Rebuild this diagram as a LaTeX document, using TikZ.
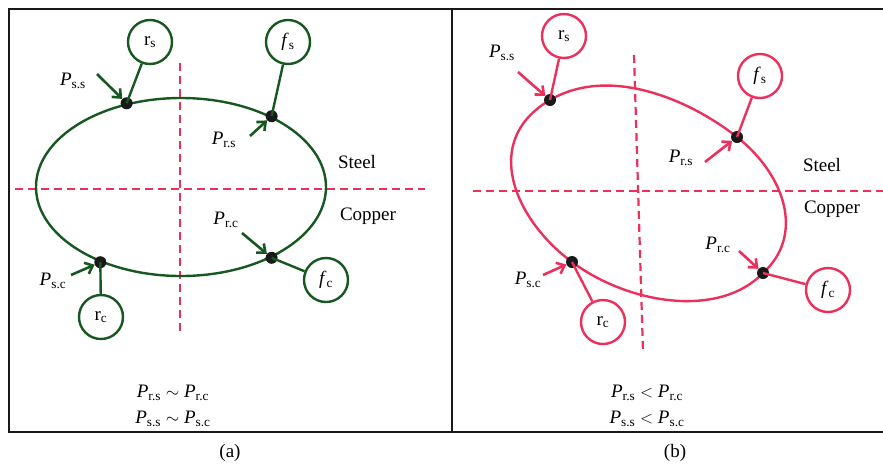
\documentclass[tikz,border=0pt]{standalone}
\usepackage{fontspec}
\setmainfont{Liberation Serif}
\usepackage{xcolor}
\usetikzlibrary{calc, shapes.geometric, positioning, arrows.meta}

\definecolor{darkgreen}{RGB}{22,88,32}
\definecolor{rosered}{RGB}{236,48,92}

\newcommand{\pw}[1]{\textit{P}\textsubscript{#1}}

\begin{document}
\begin{tikzpicture}[x=1pt, y=-1pt,
    frame/.style={line width=2.6pt, black!90},
    axis/.style={rosered, line width=2.2pt, dash pattern=on 8pt off 5pt},
    ring/.style={circle, draw=#1, line width=2.4pt, minimum size=44pt, inner sep=0pt},
    dot/.style={circle, fill=black!90, minimum size=12pt, inner sep=0pt},
    push/.style={-{Straight Barb[length=7pt, width=12pt]}, line width=2.6pt, #1},
    lbl/.style={font=\fontsize{19}{26}\selectfont, inner sep=1pt}]

    \useasboundingbox (0,0) rectangle (883,467);

    % =================================================================
    % 1. KHUNG HAI HINH
    % =================================================================
    \draw[frame] (9,9) rectangle (895,432);
    \draw[frame] (452,9) -- (452,432);

    % =================================================================
    % 2. HINH (a): VONG THEP - DONG DEU NHAU
    % =================================================================
    \draw[axis] (15,189) -- (425,189);
    \draw[axis] (180,63) -- (180,335);

    \node[ellipse, draw=darkgreen, line width=2.4pt, inner sep=0pt,
          minimum width=290pt, minimum height=178pt] (ea) at (181,187) {};

    % cac diem tiep xuc tren duong cong
    \node[dot] (dssa) at (ea.123) {};
    \node[dot] (drsa) at (ea.38) {};
    \node[dot] (drca) at (ea.-38) {};
    \node[dot] (dsca) at (ea.223) {};

    % cac vong tron
    \node[ring=darkgreen, lbl] (rsa) at (150,42) {r\textsubscript{s}};
    \node[ring=darkgreen, lbl] (fsa) at (288,42) {\textit{f}\textsubscript{s}};
    \node[ring=darkgreen, lbl] (fca) at (326,280) {\textit{f}\textsubscript{c}};
    \node[ring=darkgreen, lbl] (rca) at (101,317) {r\textsubscript{c}};

    \foreach \d/\c in {dssa/rsa, drsa/fsa, drca/fca, dsca/rca}
        \draw[darkgreen, line width=2.4pt] (\d.center) -- (\c);

    % mui ten luc
    \coordinate (assa) at (97,74);
    \coordinate (arsa) at (250,136);
    \coordinate (arca) at (242,233);
    \coordinate (asca) at (71,275);
    \foreach \a/\d in {assa/dssa, arsa/drsa, arca/drca, asca/dsca}
        \draw[push=darkgreen] (\a) -- (\d);

    \node[lbl] (pssa) at (73,81) {\pw{s.s}};
    \node[lbl] (prsa) at (224,140) {\pw{r.s}};
    \node[lbl] (prca) at (226,220) {\pw{r.c}};
    \node[lbl] (psca) at (53,281) {\pw{s.c}};

    \node[lbl] (steela) at (357,162) {Steel};
    \node[lbl] (coppera) at (368,216) {Copper};

    \node[lbl, align=center] (eqa) at (173,406)
        {\pw{r.s} $\sim$ \pw{r.c}\\ \pw{s.s} $\sim$ \pw{s.c}};
    \node[lbl] (capa) at (230,453) {(a)};

    % =================================================================
    % 3. HINH (b): VONG THEP - DONG LECH
    % =================================================================
    \draw[axis] (473,191) -- (883,191);
    \draw[axis] (634,55) -- (643,352);

    \coordinate (kss) at (550,100);
    \coordinate (krs) at (737,137);
    \coordinate (krc) at (763,273);
    \coordinate (ksc) at (572,262);

    \draw[rosered, line width=2.4pt]
        (kss) .. controls (610,65) and (690,100) .. (krs)
              .. controls (785,175) and (805,235) .. (krc)
              .. controls (720,318) and (630,305) .. (ksc)
              .. controls (515,220) and (480,141) .. (kss) -- cycle;

    \node[dot] (dssb) at (kss) {};
    \node[dot] (drsb) at (krs) {};
    \node[dot] (drcb) at (krc) {};
    \node[dot] (dscb) at (ksc) {};

    \node[ring=rosered, lbl] (rsb) at (564,36) {r\textsubscript{s}};
    \node[ring=rosered, lbl] (fsb) at (760,76) {\textit{f}\textsubscript{s}};
    \node[ring=rosered, lbl] (fcb) at (828,290) {\textit{f}\textsubscript{c}};
    \node[ring=rosered, lbl] (rcb) at (603,322) {r\textsubscript{c}};

    \foreach \d/\c in {dssb/rsb, drsb/fsb, drcb/fcb, dscb/rcb}
        \draw[rosered, line width=2.4pt] (\d.center) -- (\c);

    \coordinate (assb) at (518,72);
    \coordinate (arsb) at (705,162);
    \coordinate (arcb) at (739,251);
    \coordinate (ascb) at (543,275);
    \foreach \a/\d in {assb/dssb, arsb/drsb, arcb/drcb, ascb/dscb}
        \draw[push=rosered] (\a) -- (\d);

    \node[lbl] (pssb) at (502,53) {\pw{s.s}};
    \node[lbl] (prsb) at (681,158) {\pw{r.s}};
    \node[lbl] (prcb) at (718,245) {\pw{r.c}};
    \node[lbl] (pscb) at (528,280) {\pw{s.c}};

    \node[lbl] (steelb) at (822,165) {Steel};
    \node[lbl] (copperb) at (832,209) {Copper};

    \node[lbl, align=center] (eqb) at (647,406)
        {\pw{r.s} $<$ \pw{r.c}\\ \pw{s.s} $<$ \pw{s.c}};
    \node[lbl] (capb) at (675,453) {(b)};

\end{tikzpicture}
\end{document}
